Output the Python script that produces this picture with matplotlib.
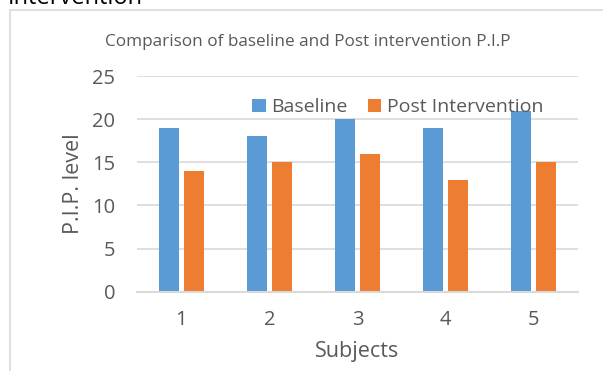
import matplotlib
matplotlib.use("Agg")
import matplotlib.pyplot as plt
from matplotlib.patches import Rectangle
import numpy as np

subjects = ["1", "2", "3", "4", "5"]
baseline = [19, 18, 20, 19, 21]
post_intervention = [14, 15, 16, 13, 15]
yticks = [0, 5, 10, 15, 20, 25]

BLUE = "#5b9bd5"
ORANGE = "#ed7d31"
GRID = "#d9d9d9"
TEXT = "#595959"

plt.rcParams["font.family"] = ["Open Sans", "DejaVu Sans"]

W, H = 603, 371
fig = plt.figure(figsize=(W / 100, H / 100), dpi=100)

def fx(px):
    return px / W

def fy(py):
    return 1 - py / H

# chart frame
fig.patches.append(Rectangle((fx(10), fy(400)), fx(700), fy(10) - fy(400),
                             transform=fig.transFigure, fill=False,
                             edgecolor=GRID, linewidth=1.2))

# heading of the surrounding document, running off the top edge
fig.text(fx(8), fy(4.5), "Intervention", fontsize=17, color="black",
         ha="left", va="baseline")

ax = fig.add_axes([fx(137), fy(291.7), fx(578) - fx(137), fy(76) - fy(291.7)])

x = np.arange(len(subjects))
bw = 0.227
off = 0.142
ax.bar(x - off, baseline, width=bw, color=BLUE, label="Baseline", zorder=3)
ax.bar(x + off, post_intervention, width=bw, color=ORANGE,
       label="Post Intervention", zorder=3)

ax.set_xlim(-0.5, len(subjects) - 0.5)
ax.set_ylim(0, 25)
ax.set_yticks(yticks)
ax.set_xticks(x)
ax.set_xticklabels(subjects)
ax.yaxis.grid(True, color=GRID, linewidth=1.2, zorder=0)
ax.set_axisbelow(True)
for s in ["top", "right", "left"]:
    ax.spines[s].set_visible(False)
ax.spines["bottom"].set_color(GRID)
ax.spines["bottom"].set_linewidth(1.5)
ax.spines["bottom"].set_zorder(4)
ax.tick_params(axis="both", length=0, labelsize=14.5, colors=TEXT)
ax.tick_params(axis="y", pad=15.5)
ax.tick_params(axis="x", pad=13)

ax.set_xlabel("Subjects", fontsize=15.5, color=TEXT, labelpad=8)
ax.set_ylabel("P.I.P. level", fontsize=15.5, color=TEXT, labelpad=6)

fig.text(fx(308), fy(42), "Comparison of baseline and Post intervention P.I.P",
         fontsize=12.3, color=TEXT, ha="center", va="center")

leg = ax.legend(loc="center", bbox_to_anchor=(fx(398), fy(107)),
                bbox_transform=fig.transFigure, ncol=2, frameon=False,
                fontsize=14, handlelength=0.67, handleheight=0.67,
                handletextpad=0.31, columnspacing=1.03, borderpad=0)
for t in leg.get_texts():
    t.set_color(TEXT)
leg.set_zorder(5)

fig.savefig("out.png", dpi=100)
